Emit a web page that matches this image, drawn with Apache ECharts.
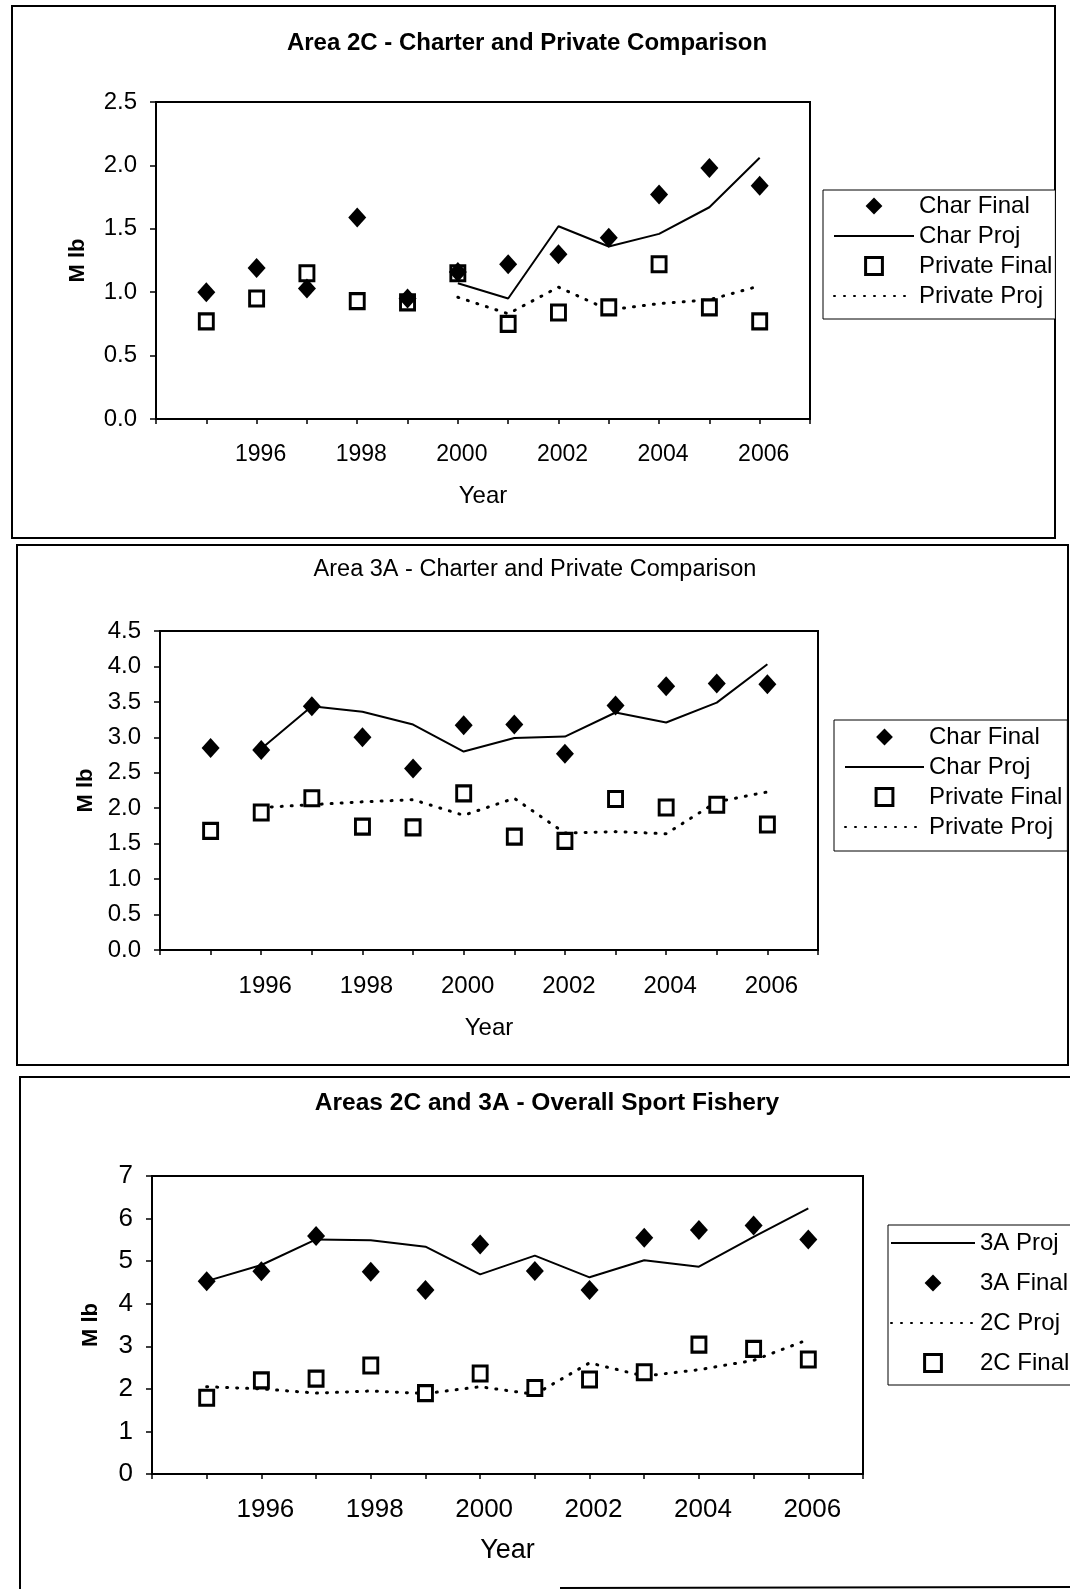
<!DOCTYPE html>
<html>
<head>
<meta charset="utf-8">
<script src="https://cdn.jsdelivr.net/npm/echarts@6/dist/echarts.min.js"></script>
<style>
html,body{margin:0;padding:0;background:#fff;}
#c{width:1070px;height:1591px;}
</style>
</head>
<body>
<div id="c"></div>
<script>
// ---- data ----
const years = [1995,1996,1997,1998,1999,2000,2001,2002,2003,2004,2005,2006];
const xTickLabels = [1996,1998,2000,2002,2004,2006];

// Area 2C
const a2cCharFinal   = [1.00,1.19,1.03,1.59,0.95,1.16,1.22,1.30,1.43,1.77,1.98,1.84];
const a2cCharProj    = [null,null,null,null,null,1.07,0.95,1.52,1.36,1.46,1.67,2.06];
const a2cPrivFinal   = [0.77,0.95,1.15,0.93,0.92,1.15,0.75,0.84,0.88,1.22,0.88,0.77];
const a2cPrivProj    = [null,null,null,null,null,0.96,0.83,1.04,0.86,0.91,0.94,1.05];

// Area 3A
const a3aCharFinal   = [2.85,2.82,3.44,3.00,2.56,3.17,3.18,2.77,3.45,3.72,3.76,3.75];
const a3aCharProj    = [null,2.84,3.44,3.36,3.18,2.80,2.99,3.01,3.35,3.21,3.49,4.03];
const a3aPrivFinal   = [1.68,1.94,2.14,1.74,1.73,2.21,1.60,1.54,2.13,2.01,2.05,1.77];
const a3aPrivProj    = [null,2.01,2.05,2.09,2.12,1.90,2.14,1.65,1.67,1.64,2.09,2.23];

// Overall
const all3AProj      = [4.53,4.91,5.51,5.49,5.34,4.69,5.13,4.62,5.02,4.87,5.57,6.24];
const all3AFinal     = [4.53,4.76,5.59,4.75,4.32,5.39,4.77,4.32,5.55,5.73,5.84,5.51];
const all2CProj      = [2.05,2.00,1.90,1.95,1.89,2.05,1.87,2.61,2.30,2.45,2.67,3.16];
const all2CFinal     = [1.79,2.20,2.24,2.55,1.90,2.36,2.02,2.22,2.39,3.04,2.94,2.69];

const titles = ['Area 2C - Charter and Private Comparison','Area 3A - Charter and Private Comparison','Areas 2C and 3A - Overall Sport Fishery'];
const legendNames12 = ['Char Final','Char Proj','Private Final','Private Proj'];
const legendNames3  = ['3A Proj','3A Final','2C Proj','2C Final'];
const lineNames = ['Char Proj','Private Proj','3A Proj','2C Proj'];
const squareNames = ['Private Final','2C Final'];

// ---- helpers ----
const pair = arr => years.map((y,i)=>[y,arr[i]]);
const FONT = 'Liberation Sans, Arial, sans-serif';

function xAxis(gi, fs, margin, nameFs, nameGap){
  return {
    gridIndex: gi, type:'value', min:1994, max:2007, interval:1,
    name:'Year', nameLocation:'middle', nameGap:nameGap,
    nameTextStyle:{color:'#000', fontSize:nameFs, fontFamily:FONT},
    axisLine:{show:true, onZero:false, lineStyle:{color:'#000', width:2}},
    axisTick:{show:true, inside:false, length:5, lineStyle:{color:'#000', width:1.5}},
    splitLine:{show:false},
    axisLabel:{color:'#000', fontSize:fs, fontFamily:FONT, margin:margin, padding:[0,0,0,8],
      formatter: v => xTickLabels.indexOf(v)>=0 ? String(v) : ''}
  };
}
function yAxis(gi, max, interval, dec, fs, gap){
  return {
    gridIndex: gi, type:'value', min:0, max:max, interval:interval,
    name:'M lb', nameLocation:'middle', nameGap:gap, nameRotate:90,
    nameTextStyle:{color:'#000', fontSize:22, fontWeight:'bold', fontFamily:FONT},
    axisLine:{show:true, lineStyle:{color:'#000', width:2}},
    axisTick:{show:true, inside:false, length:6, lineStyle:{color:'#000', width:1.5}},
    splitLine:{show:false},
    axisLabel:{color:'#000', fontSize:fs, fontFamily:FONT, margin:19,
      formatter: v => v.toFixed(dec)}
  };
}
// "Final" series: markers only (line series with an invisible connecting line)
function finalDiamond(name, gi, data){
  return {name, type:'line', xAxisIndex:gi, yAxisIndex:gi, data:pair(data),
    symbol:'diamond', symbolSize:[18,20], showSymbol:true, showAllSymbol:true,
    lineStyle:{opacity:0, width:0}, itemStyle:{color:'#000', opacity:1}, z:4};
}
function finalSquare(name, gi, data){
  return {name, type:'line', xAxisIndex:gi, yAxisIndex:gi, data:pair(data),
    symbol:'rect', symbolSize:[14,15], showSymbol:true, showAllSymbol:true,
    lineStyle:{opacity:0, width:0}, itemStyle:{color:'#fff', borderColor:'#000', borderWidth:3, opacity:1}, z:3};
}
function projSolid(name, gi, data){
  return {name, type:'line', xAxisIndex:gi, yAxisIndex:gi, data:pair(data),
    symbol:'none', connectNulls:false, lineStyle:{color:'#000', width:2}, itemStyle:{color:'#000'}, z:2};
}
function projDot(name, gi, data){
  return {name, type:'line', xAxisIndex:gi, yAxisIndex:gi, data:pair(data),
    symbol:'none', connectNulls:false, lineStyle:{color:'#000', width:3, type:[1,9], cap:'round'}, itemStyle:{color:'#000'}, z:2};
}
function legendItem(n){
  if (lineNames.indexOf(n)>=0) return {name:n, itemStyle:{opacity:0}};
  if (squareNames.indexOf(n)>=0) return {name:n, lineStyle:{opacity:0, width:0}, itemStyle:{color:'#fff', borderColor:'#000', borderWidth:3}};
  return {name:n, lineStyle:{opacity:0, width:0}};
}
function legend(names, left, top, itemGap, padding, fs, iw, ih){
  return {
    orient:'vertical', left, top, itemGap, padding, itemWidth:iw, itemHeight:ih,
    data:names.map(legendItem),
    selectedMode:false,
    borderColor:'#000', borderWidth:1, backgroundColor:'#fff',
    textStyle:{color:'#000', fontSize:fs, fontFamily:FONT, lineHeight:fs},
    inactiveColor:'#000'
  };
}

const chart = echarts.init(document.getElementById('c'), null, {renderer:'canvas'});
const option = {
  backgroundColor:'#fff',
  animation:false,
  title:[
    {text:titles[0], left:522, top:26, textAlign:'center', textStyle:{fontSize:24, fontWeight:'bold', color:'#000', fontFamily:FONT}},
    {text:titles[1], left:530, top:553, textAlign:'center', textStyle:{fontSize:23.5, fontWeight:'normal', color:'#000', fontFamily:FONT}},
    {text:titles[2], left:542, top:1086, textAlign:'center', textStyle:{fontSize:24.5, fontWeight:'bold', color:'#000', fontFamily:FONT}}
  ],
  grid:[
    {left:156, top:102, width:654, height:317, show:true, borderColor:'#000', borderWidth:2, backgroundColor:'transparent', containLabel:false},
    {left:160, top:631, width:658, height:319, show:true, borderColor:'#000', borderWidth:2, backgroundColor:'transparent', containLabel:false},
    {left:152, top:1176, width:711, height:298, show:true, borderColor:'#000', borderWidth:2, backgroundColor:'transparent', containLabel:false}
  ],
  xAxis:[xAxis(0,23,24,24,65), xAxis(1,24,24,24,66), xAxis(2,26,23,27,63)],
  yAxis:[yAxis(0,2.5,0.5,1,24,67), yAxis(1,4.5,0.5,1,24,63), yAxis(2,7,1,0,26,50)],
  legend:[
    legend(legendNames12, 823, 190, 6, [4,3,11,10], 24, 80, 21),
    legend(legendNames12, 834, 720, 6, [5,5,12,10], 24, 79, 21),
    legend(legendNames3, 888, 1225, 16, [6,40,10,2], 24, 84, 21)
  ],
  graphic:[
    {type:'rect', shape:{x:12, y:6, width:1043, height:532}, style:{fill:'none', stroke:'#000', lineWidth:2}, silent:true},
    {type:'rect', shape:{x:17, y:545, width:1051, height:520}, style:{fill:'none', stroke:'#000', lineWidth:2}, silent:true},
    {type:'polyline', shape:{points:[[20,1589],[20,1077],[1070,1077]]}, style:{fill:'none', stroke:'#000', lineWidth:2}, silent:true},
    {type:'line', shape:{x1:560, y1:1588, x2:1070, y2:1587}, style:{stroke:'#000', lineWidth:2}, silent:true}
  ],
  series:[
    finalDiamond('Char Final',0,a2cCharFinal),
    projSolid('Char Proj',0,a2cCharProj),
    finalSquare('Private Final',0,a2cPrivFinal),
    projDot('Private Proj',0,a2cPrivProj),
    finalDiamond('Char Final',1,a3aCharFinal),
    projSolid('Char Proj',1,a3aCharProj),
    finalSquare('Private Final',1,a3aPrivFinal),
    projDot('Private Proj',1,a3aPrivProj),
    projSolid('3A Proj',2,all3AProj),
    finalDiamond('3A Final',2,all3AFinal),
    projDot('2C Proj',2,all2CProj),
    finalSquare('2C Final',2,all2CFinal)
  ]
};
chart.setOption(option);
</script>
</body>
</html>
